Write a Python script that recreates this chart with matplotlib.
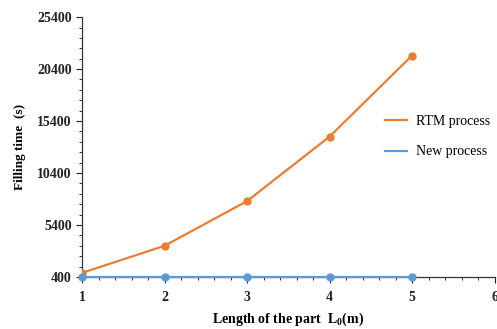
import matplotlib
matplotlib.use("Agg")
import matplotlib.pyplot as plt
from matplotlib.ticker import AutoMinorLocator
from matplotlib.lines import Line2D

lengths = [1, 2, 3, 4, 5]
rtm_time = [800, 3400, 7700, 13900, 21700]
new_time = [420, 420, 420, 420, 420]
y_ticks = [400, 5400, 10400, 15400, 20400, 25400]
x_ticks = [1, 2, 3, 4, 5, 6]

plt.rcParams['font.family'] = ['Liberation Serif', 'DejaVu Serif']
plt.rcParams['mathtext.fontset'] = 'custom'
plt.rcParams['mathtext.rm'] = 'Liberation Serif'
plt.rcParams['mathtext.bf'] = 'Liberation Serif:bold'

fig = plt.figure(figsize=(4.97, 3.29), dpi=100)
ax = fig.add_axes([0.165, 0.158, 0.83, 0.79])

orange = '#ED7D31'
blue = '#5B9BD5'
ax.plot(lengths, rtm_time, color=orange, lw=1.6, marker='o', ms=5, zorder=3)
ax.plot(lengths, new_time, color=blue, lw=1.6, marker='o', ms=5, zorder=3, clip_on=False)

ax.set_xlim(1, 6)
ax.set_ylim(400, 25400)
ax.set_xticks(x_ticks)
ax.set_yticks(y_ticks)
ax.xaxis.set_minor_locator(AutoMinorLocator(5))
ax.yaxis.set_minor_locator(AutoMinorLocator(5))
for s in ['top', 'right']:
    ax.spines[s].set_visible(False)
for s in ['left', 'bottom']:
    ax.spines[s].set_color('#333333')
    ax.spines[s].set_linewidth(0.9)
ax.tick_params(axis='both', which='major', direction='out', length=4, width=0.8, labelsize=10, colors='#222222')
ax.tick_params(axis='both', which='minor', direction='out', length=2.5, width=0.7, colors='#333333')
ax.tick_params(axis='x', pad=6)
for lab in ax.get_xticklabels() + ax.get_yticklabels():
    lab.set_fontweight('bold')

ax.set_xlabel(r'Length of the part  L$_\mathbf{0}$(m)', fontsize=10, fontweight='bold', labelpad=5)
ax.set_ylabel('Filling time  (s)', fontsize=9.5, fontweight='bold', labelpad=8)

handles = [Line2D([0], [0], color=orange, lw=1.6), Line2D([0], [0], color=blue, lw=1.6)]
ax.legend(handles, ['RTM process', 'New process'], loc='upper left',
          bbox_to_anchor=(385 / 497, 1 - 115 / 329), bbox_transform=fig.transFigure,
          frameon=False, fontsize=10, borderpad=0, borderaxespad=0,
          handlelength=1.6, labelspacing=1.25, handletextpad=0.6)

fig.savefig('out.png', dpi=100)
